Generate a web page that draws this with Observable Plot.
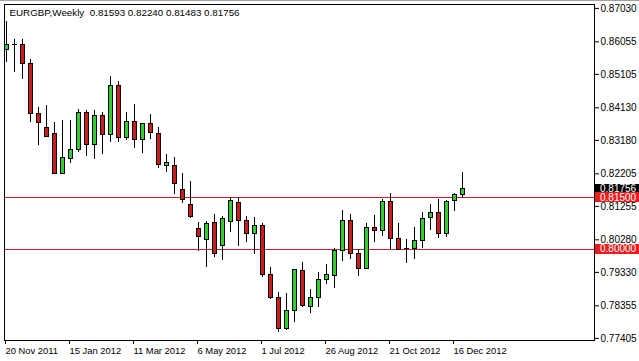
<!DOCTYPE html>
<html><head><meta charset="utf-8">
<script src="https://cdn.jsdelivr.net/npm/d3@7"></script>
<script src="https://cdn.jsdelivr.net/npm/@observablehq/plot@0.6"></script>
<style>
html,body{margin:0;padding:0;background:#fff;}
#chart{width:639px;height:361px;overflow:hidden;}
</style></head><body><div id="chart"></div>
<script>
const symbol = "EURGBP";
const period = "Weekly";
const dates = ["2011-11-20","2011-11-27","2011-12-04","2011-12-11","2011-12-18","2011-12-25","2012-01-01","2012-01-08","2012-01-15","2012-01-22","2012-01-29","2012-02-05","2012-02-12","2012-02-19","2012-02-26","2012-03-04","2012-03-11","2012-03-18","2012-03-25","2012-04-01","2012-04-08","2012-04-15","2012-04-22","2012-04-29","2012-05-06","2012-05-13","2012-05-20","2012-05-27","2012-06-03","2012-06-10","2012-06-17","2012-06-24","2012-07-01","2012-07-08","2012-07-15","2012-07-22","2012-07-29","2012-08-05","2012-08-12","2012-08-19","2012-08-26","2012-09-02","2012-09-09","2012-09-16","2012-09-23","2012-09-30","2012-10-07","2012-10-14","2012-10-21","2012-10-28","2012-11-04","2012-11-11","2012-11-18","2012-11-25","2012-12-02","2012-12-09","2012-12-16","2012-12-23"];
const open  = [0.85805,0.85972,0.85970,0.85420,0.83959,0.83550,0.83355,0.82210,0.82646,0.82909,0.83988,0.83055,0.83900,0.83346,0.84775,0.83259,0.83725,0.83200,0.83647,0.83375,0.82422,0.82422,0.81742,0.81305,0.80605,0.80284,0.80780,0.80097,0.80797,0.81363,0.80826,0.80459,0.80680,0.79263,0.78592,0.77668,0.78201,0.79368,0.78318,0.78580,0.79117,0.79230,0.79943,0.80818,0.79875,0.79438,0.80634,0.80535,0.81381,0.80313,0.80005,0.80001,0.80234,0.80926,0.81072,0.80459,0.81401,0.81593];
const high  = [0.86651,0.86126,0.86117,0.85534,0.84151,0.84201,0.83696,0.83763,0.83763,0.84075,0.84050,0.84050,0.83990,0.85047,0.84901,0.84005,0.84221,0.83660,0.83938,0.83568,0.82772,0.82675,0.82209,0.81984,0.80780,0.80817,0.81013,0.80950,0.81526,0.81509,0.80972,0.80925,0.80750,0.79485,0.78738,0.78708,0.79400,0.79613,0.78825,0.79321,0.79563,0.80039,0.81139,0.81022,0.79992,0.80751,0.80992,0.81450,0.81643,0.80768,0.80293,0.80634,0.81089,0.81313,0.81459,0.81430,0.81643,0.82240];
const low   = [0.85455,0.85172,0.84950,0.83714,0.83034,0.83250,0.82190,0.82200,0.82518,0.82839,0.82722,0.82617,0.82763,0.83130,0.83110,0.83180,0.82938,0.82810,0.83200,0.82355,0.82256,0.81596,0.81334,0.80914,0.79951,0.79485,0.79776,0.79680,0.80488,0.80097,0.80214,0.79846,0.79176,0.78543,0.77571,0.77639,0.77881,0.78320,0.78125,0.78320,0.78980,0.78855,0.79651,0.79709,0.79220,0.79430,0.80214,0.80389,0.80001,0.79980,0.79584,0.79700,0.80039,0.80555,0.80331,0.80341,0.81109,0.81483];
const close = [0.85951,0.85968,0.85420,0.83959,0.83696,0.83277,0.82209,0.82664,0.82909,0.83988,0.83055,0.83900,0.83346,0.84775,0.83259,0.83725,0.83200,0.83647,0.83405,0.82471,0.82519,0.81917,0.81430,0.80943,0.80360,0.80730,0.79876,0.80897,0.81401,0.80826,0.80459,0.80680,0.79263,0.78580,0.77688,0.78201,0.79388,0.78339,0.78592,0.79117,0.79243,0.79943,0.80818,0.79875,0.79438,0.80634,0.80535,0.81381,0.80313,0.79992,0.80000,0.80234,0.80897,0.81072,0.80459,0.81381,0.81597,0.81756];
const yTickValues = [0.87030,0.86055,0.85105,0.84130,0.83180,0.82205,0.81255,0.80280,0.79330,0.78355,0.77405];
const xTickDates = ["2011-11-20","2012-01-15","2012-03-11","2012-05-06","2012-07-01","2012-08-26","2012-10-21","2012-12-16"];
const levels = [0.81500, 0.80000];

const WEEK = 7 * 24 * 3600 * 1000;
const parse = s => new Date(s + "T00:00:00Z");
const data = dates.map((d, i) => ({date: parse(d), open: open[i], high: high[i], low: low[i], close: close[i]}));
const t0 = data[0].date.getTime();
const last = data.length - 1;
const f5 = v => v.toFixed(5);
const header = [{text: `${symbol},${period}\u00a0\u00a0${f5(open[last])} ${f5(high[last])} ${f5(low[last])} ${f5(close[last])}`}];

const bull = "#32cd32", bear = "#cc1b1b";
const FONT = "'Liberation Sans', Arial, sans-serif";

const chart = Plot.plot({
  width: 639, height: 361,
  marginLeft: 4, marginRight: 45, marginTop: 4, marginBottom: 21,
  style: {fontFamily: FONT, fontSize: "10px", color: "#000", background: "#fff", overflow: "visible"},
  x: {type: "utc", domain: [new Date(t0 - 0.25 * WEEK), new Date(t0 + 73.5 * WEEK)]},
  y: {domain: [0.77343, 0.87143]},
  marks: [
    Plot.ruleY(levels, {stroke: "#c8232b", strokeWidth: 1, shapeRendering: "crispEdges"}),
    Plot.ruleX(data, {x: "date", y1: "low", y2: "high", stroke: "#000", shapeRendering: "crispEdges"}),
    Plot.rect(data, {
      x1: d => new Date(d.date.getTime() - 0.25 * WEEK),
      x2: d => new Date(d.date.getTime() + 0.25 * WEEK),
      y1: "open", y2: "close",
      fill: d => d.close >= d.open ? bull : bear,
      stroke: "#000", strokeWidth: 1, shapeRendering: "crispEdges"
    }),
    Plot.frame({stroke: "#000", shapeRendering: "crispEdges"}),
    Plot.axisY({anchor: "right", ticks: yTickValues, tickFormat: f5, tickSize: 4, tickPadding: 2, label: null, fill: "#000"}),
    Plot.axisX({ticks: xTickDates.map(parse), tickFormat: d3.utcFormat("%-d %b %Y"), tickSize: 4, tickPadding: 3, textAnchor: "start", dx: -1, label: null, fill: "#000", fontSize: 9.4}),
    Plot.text(header, {text: "text", frameAnchor: "top-left", dx: 5, dy: 5, textAnchor: "start", lineAnchor: "top", fill: "#000", fontSize: 9.8})
  ]
});

document.getElementById("chart").appendChild(chart);

// price labels on the right axis
const ys = chart.scale("y");
const svg = d3.select(chart);
const boxes = [
  {v: close[last], fill: "#000"},
  ...levels.map(v => ({v, fill: "#ee1c1c"}))
];
const g = svg.append("g").attr("text-anchor", "start");
for (const b of boxes) {
  const y = ys.apply(b.v);
  g.append("rect").attr("x", 595).attr("y", Math.round(y - 5)).attr("width", 44).attr("height", 10).attr("fill", b.fill);
  g.append("text").attr("x", 600).attr("y", y).attr("dy", "0.34em").attr("fill", "#fff").attr("text-anchor", "start")
    .attr("font-family", FONT).attr("font-size", 10).text(f5(b.v));
}
svg.append("line").attr("x1", 0).attr("x2", 639).attr("y1", 0.5).attr("y2", 0.5).attr("stroke", "#a0a0a0");
</script>
</body></html>
